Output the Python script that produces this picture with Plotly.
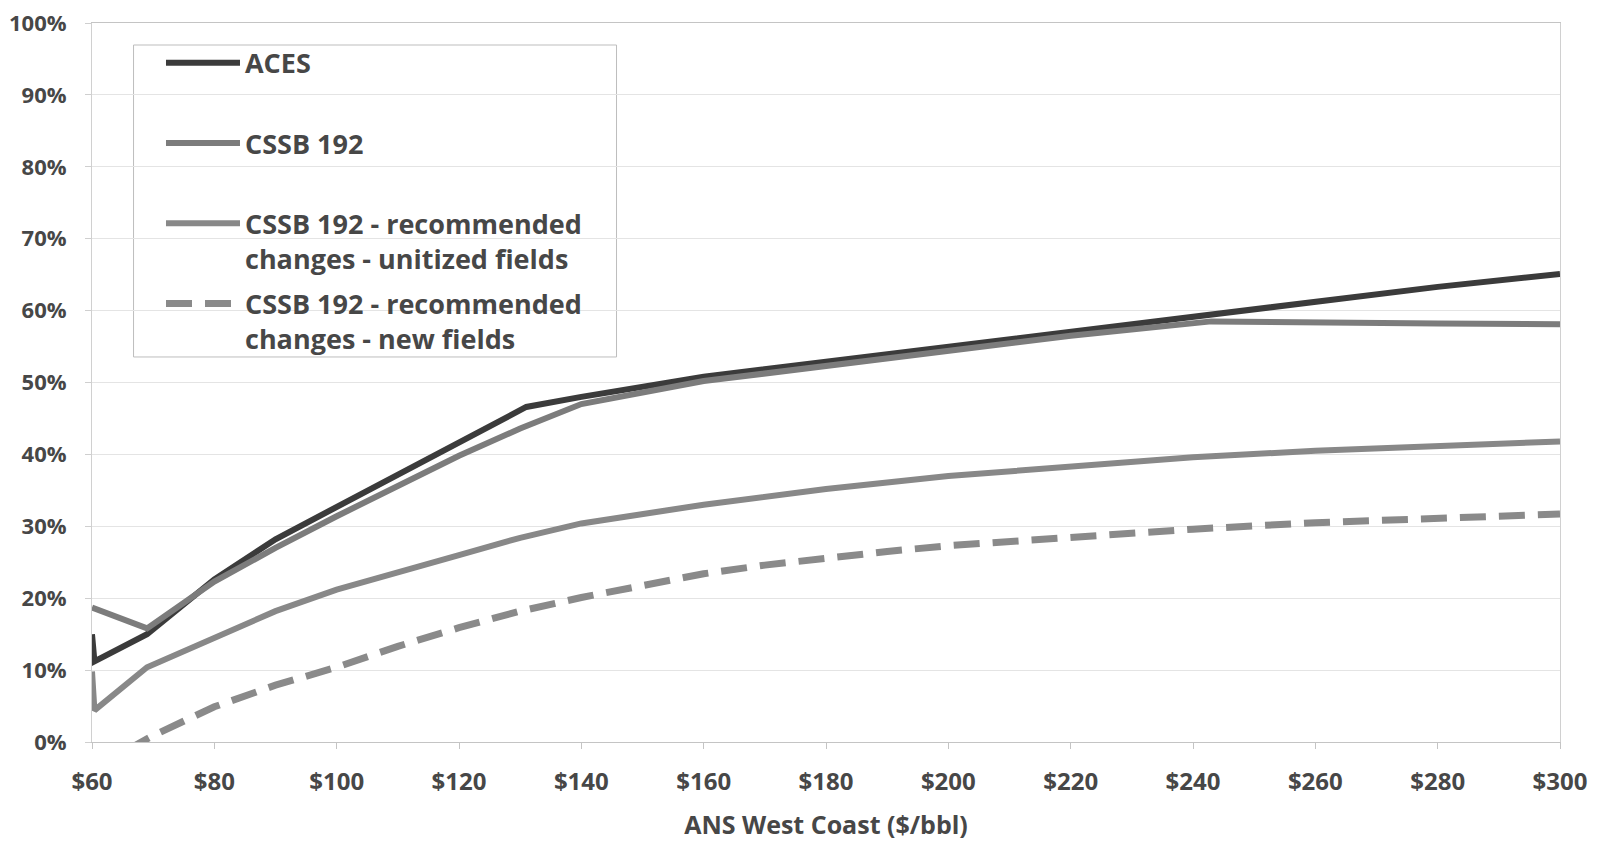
import plotly.graph_objects as go

# ---- data ----
aces_x = [60, 60.4, 69, 80, 90, 100, 110, 120, 131, 140, 160, 180, 200, 220, 240, 260, 280, 300]
aces_y = [15.0, 11.2, 15.0, 22.6, 28.2, 32.7, 37.3, 41.8, 46.6, 48.0, 50.8, 52.9, 55.0, 57.0, 59.3, 61.4, 63.3, 65.1]

cssb_x = [60, 69, 80, 90, 100, 110, 120, 130, 140, 160, 180, 200, 220, 243, 260, 280, 300]
cssb_y = [18.7, 15.8, 22.3, 27.0, 31.4, 35.7, 39.8, 43.6, 47.0, 50.2, 52.3, 54.4, 56.5, 58.5, 58.3, 58.2, 58.1]

unit_x = [60, 60.4, 69, 80, 90, 100, 110, 120, 130, 140, 160, 180, 200, 220, 240, 260, 280, 300]
unit_y = [9.8, 4.4, 10.4, 14.6, 18.2, 21.2, 23.7, 26.0, 28.4, 30.4, 33.0, 35.2, 37.0, 38.4, 39.6, 40.5, 41.2, 41.8]

new_x = [60, 70, 80, 90, 100, 110, 120, 130, 140, 150, 160, 170, 180, 190, 200, 220, 240, 260, 280, 300]
new_y = [-3.8, 0.9, 4.9, 7.9, 10.4, 13.3, 15.9, 18.2, 20.1, 21.8, 23.4, 24.6, 25.6, 26.5, 27.3, 28.5, 29.6, 30.5, 31.1, 31.7]

names = ["ACES<br>\u00a0", "CSSB 192<br>\u00a0",
         "CSSB 192 - recommended<br>changes - unitized fields",
         "CSSB 192 - recommended<br>changes - new fields"]

fig = go.Figure()
fig.add_trace(go.Scatter(x=aces_x, y=aces_y, mode="lines", name=names[0],
                         line=dict(color="#3b3b3b", width=6), legendgroup="a"))
fig.add_trace(go.Scatter(x=cssb_x, y=cssb_y, mode="lines", name=names[1],
                         line=dict(color="#7c7c7c", width=6), legendgroup="b"))
fig.add_trace(go.Scatter(x=unit_x, y=unit_y, mode="lines", name=names[2],
                         line=dict(color="#888888", width=6), legendgroup="c"))
fig.add_trace(go.Scatter(x=new_x, y=new_y, mode="lines", name=names[3],
                         line=dict(color="#8a8a8a", width=7, dash="26px,13px"), legendgroup="d"))

def fnt(size):
    return dict(family="Open Sans", size=size, color="#474747", weight="bold")

fig.update_layout(
    width=1598, height=841,
    margin=dict(l=92, r=38, t=23, b=99),
    paper_bgcolor="white", plot_bgcolor="white",
    showlegend=True,
    legend=dict(
        x=0.047, y=0.978, xanchor="left", yanchor="top",
        bgcolor="rgba(0,0,0,0)", borderwidth=0,
        font=fnt(27),
        traceorder="grouped", tracegroupgap=7, valign="top",
        itemwidth=74,
    ),
    shapes=[dict(type="rect", xref="paper", yref="paper",
                 x0=0.0283, x1=0.3573, y0=0.5355, y1=0.9694,
                 line=dict(color="#bdbdbd", width=1), fillcolor="white",
                 layer="between")],
    xaxis=dict(
        range=[60, 300], dtick=20, tick0=60, tickprefix="$",
        showgrid=False, zeroline=False, automargin=False,
        showline=True, linecolor="#c4c4c4", linewidth=1, mirror=True,
        ticks="outside", ticklen=6, tickcolor="#c4c4c4",
        tickfont=fnt(24), ticklabelstandoff=12,
        title=dict(text="ANS West Coast ($/bbl)", standoff=22, font=fnt(25)),
    ),
    yaxis=dict(
        range=[0, 100], dtick=10, ticksuffix="%",
        showgrid=True, gridcolor="#e4e4e4", gridwidth=1, zeroline=False, automargin=False,
        showline=True, linecolor="#d0d0d0", linewidth=1, mirror=True,
        ticks="outside", ticklen=6, tickcolor="#cfcfcf",
        tickfont=fnt(22), ticklabelstandoff=14,
    ),
)

fig.write_html("out.html")
